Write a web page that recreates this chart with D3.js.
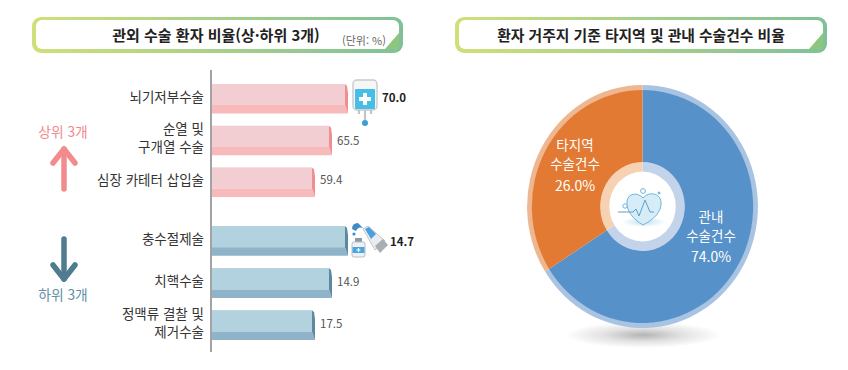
<!DOCTYPE html>
<html lang="ko">
<head>
<meta charset="utf-8">
<script src="https://cdn.jsdelivr.net/npm/d3@7"></script>
<style>
  html, body { margin: 0; padding: 0; background: #fff; }
  text { font-family: "Noto Sans CJK KR", "Noto Sans", sans-serif; }
</style>
</head>
<body>
<div id="chart"></div>
<script>
/* DATA */
const topNames = [["뇌기저부수술"], ["순열 및", "구개열 수술"], ["심장 카테터 삽입술"]];
const topValues = [70.0, 65.5, 59.4];
const lowNames = [["충수절제술"], ["치핵수술"], ["정맥류 결찰 및", "제거수술"]];
const lowValues = [14.7, 14.9, 17.5];
const barLabels = ["70.0", "65.5", "59.4", "14.7", "14.9", "17.5"];
const pieNames = [["관내", "수술건수"], ["타지역", "수술건수"]];
const pieLabels = ["74.0%", "26.0%"];
// the slices in the picture are not drawn to the printed percentages, this is what they measure
const pieDrawn = [66, 34];

const width = 848, height = 370;

const svg = d3.select("#chart").append("svg")
  .attr("width", width)
  .attr("height", height)
  .style("display", "block");

const defs = svg.append("defs");

const frameGrad = defs.append("linearGradient").attr("id", "frameGrad");
frameGrad.append("stop").attr("offset", "0%").attr("stop-color", "#cfe07a");
frameGrad.append("stop").attr("offset", "100%").attr("stop-color", "#7fc197");

const shadowGrad = defs.append("radialGradient").attr("id", "shadowGrad");
shadowGrad.append("stop").attr("offset", "0%").attr("stop-color", "#b4b4b4");
shadowGrad.append("stop").attr("offset", "50%").attr("stop-color", "#e2e2e2");
shadowGrad.append("stop").attr("offset", "100%").attr("stop-color", "#ffffff");

const glowGrad = defs.append("radialGradient").attr("id", "glowGrad");
glowGrad.append("stop").attr("offset", "0%").attr("stop-color", "#bfe0f2");
glowGrad.append("stop").attr("offset", "100%").attr("stop-color", "#ffffff");

/* TITLE BOXES */
function titleBox(x, w, label, cx, size) {
  const g = svg.append("g");
  g.append("rect")
    .attr("x", x).attr("y", 17)
    .attr("width", w).attr("height", 36)
    .attr("rx", 9)
    .attr("fill", "url(#frameGrad)");
  g.append("rect")
    .attr("x", x + 4).attr("y", 20)
    .attr("width", w - 8).attr("height", 29)
    .attr("rx", 6)
    .attr("fill", "#fff");
  // green corner fold
  g.append("path")
    .attr("d", `M${x + w - 18},49 L${x + w - 4},33 L${x + w - 4},45 Q${x + w - 4},49 ${x + w - 9},49 Z`)
    .attr("fill", "#8cc67f");
  g.append("text")
    .attr("x", cx).attr("y", 36)
    .attr("dy", "0.35em")
    .attr("text-anchor", "middle")
    .attr("font-size", size)
    .attr("font-weight", 700)
    .attr("fill", "#222")
    .text(label);
}
titleBox(32, 371, "관외 수술 환자 비율(상·하위 3개)", 216, 15);
titleBox(455, 372, "환자 거주지 기준 타지역 및 관내 수술건수 비율", 641, 14.8);

svg.append("text")
  .attr("x", 364).attr("y", 41)
  .attr("dy", "0.35em")
  .attr("text-anchor", "middle")
  .attr("font-size", 11)
  .attr("fill", "#666")
  .text("(단위: %)");

/* BAR SCALES */
const axisX = 212;
// bar lengths follow the rank, the lower group runs the other way round
const xTop = d3.scaleLinear().domain([59.4, 65.5, 70]).range([axisX + 103, axisX + 120, axisX + 136]);
const xLow = d3.scaleLinear().domain([17.5, 14.9, 14.7]).range([axisX + 103, axisX + 120, axisX + 136]);

const yTop = d3.scaleBand().domain(d3.range(3)).range([84, 197]).paddingInner(0.29);
const yLow = d3.scaleBand().domain(d3.range(3)).range([226, 340]).paddingInner(0.29);

const underH = 8.5;

function drawBars(values, names, xScale, yScale, offset, c) {
  const g = svg.append("g");
  const rows = values.map((v, i) => ({ v, i, names: names[i], label: barLabels[i + offset] }));
  const bh = yScale.bandwidth();

  const row = g.selectAll("g.row").data(rows).join("g").attr("class", "row");

  row.append("rect")
    .attr("x", axisX)
    .attr("y", d => yScale(d.i))
    .attr("width", d => xScale(d.v) - axisX - 3)
    .attr("height", bh - underH)
    .attr("fill", c.face);

  row.append("path")
    .attr("d", d => {
      const x1 = xScale(d.v), y0 = yScale(d.i);
      return `M${axisX},${y0 + bh - underH} L${x1 - 3},${y0 + bh - underH} L${x1},${y0 + bh} L${axisX},${y0 + bh} Z`;
    })
    .attr("fill", c.under);

  row.append("path")
    .attr("d", d => {
      const x1 = xScale(d.v), y0 = yScale(d.i);
      return `M${x1 - 3},${y0} L${x1 - 1},${y0 + 2} L${x1},${y0 + 9} L${x1},${y0 + bh} L${x1 - 3},${y0 + bh - underH} Z`;
    })
    .attr("fill", c.edge);

  row.append("text")
    .attr("x", d => xScale(d.v) + (d.i === 0 ? c.bestGap : 5))
    .attr("y", d => yScale(d.i) + c.labelY[d.i])
    .attr("dy", "0.35em")
    .attr("font-size", 11.5)
    .attr("font-weight", d => d.i === 0 ? 700 : 400)
    .attr("fill", d => d.i === 0 ? "#222" : "#555")
    .text(d => d.label);

  const names2 = row.append("text")
    .attr("text-anchor", "end")
    .attr("font-size", 13.5)
    .attr("fill", "#333");
  names2.selectAll("tspan")
    .data(d => d.names.map((t, k) => ({ t, k, d })))
    .join("tspan")
    .attr("x", 204)
    .attr("y", d => yScale(d.d.i) + bh / 2 - 2 + (d.k - (d.d.names.length - 1) / 2) * 18.5)
    .attr("dy", "0.35em")
    .text(d => d.t);
}

drawBars(topValues, topNames, xTop, yTop, 0,
  { face: "#f2cdd2", under: "#f8b9bb", edge: "#ee8f93", bestGap: 34, labelY: [14, 15, 13] });
drawBars(lowValues, lowNames, xLow, yLow, 3,
  { face: "#b3d2df", under: "#8fb3c9", edge: "#5b8a9f", bestGap: 42, labelY: [16, 14, 14] });

// axis line
svg.append("line")
  .attr("x1", 211).attr("x2", 211)
  .attr("y1", 70).attr("y2", 352)
  .attr("stroke", "#8c8c8c")
  .attr("stroke-width", 1.6);

/* UP / DOWN ARROWS */
function arrow(x, tipY, endY, dir, color, label, labelY) {
  const g = svg.append("g")
    .attr("fill", "none")
    .attr("stroke", color)
    .attr("stroke-width", 5.5)
    .attr("stroke-linecap", "round")
    .attr("stroke-linejoin", "round");
  g.append("path").attr("d", `M${x},${tipY} L${x},${endY}`);
  g.append("path").attr("d", `M${x - 11},${tipY + dir * 14} L${x},${tipY} L${x + 11},${tipY + dir * 14}`);
  svg.append("text")
    .attr("x", x - 1).attr("y", labelY)
    .attr("dy", "0.35em")
    .attr("text-anchor", "middle")
    .attr("font-size", 13.8)
    .attr("fill", label.color)
    .text(label.text);
}
arrow(64, 149, 189, 1, "#f28b8e", { text: "상위 3개", color: "#f0898d" }, 132);
arrow(64, 279, 239, -1, "#4f7c91", { text: "하위 3개", color: "#5f90a6" }, 295);

/* ICONS */
// iv bag beside the longest top bar
const bag = svg.append("g").attr("transform", `translate(${xTop(70)},0)`);
bag.append("rect").attr("x", 5).attr("y", 80).attr("width", 24).attr("height", 30).attr("rx", 4)
  .attr("fill", "#f4f6f7").attr("stroke", "#c9c9c9").attr("stroke-width", 1.4);
bag.append("rect").attr("x", 7).attr("y", 89).attr("width", 20).attr("height", 20).attr("rx", 1).attr("fill", "#45bfe8");
bag.append("path").attr("d", "M17,93 V105 M11,99 H23").attr("stroke", "#fff").attr("stroke-width", 4);
bag.append("path").attr("d", "M11,110 V114 M17,110 V120 M23,110 V114").attr("stroke", "#c4c4c4").attr("stroke-width", 2.2);
bag.append("circle").attr("cx", 17).attr("cy", 123).attr("r", 3).attr("fill", "#3b9fd6");

// bottle and ointment tube beside the longest lower bar
const tube = svg.append("g").attr("transform", `translate(${xLow(14.7)},0)`);
tube.append("rect").attr("x", 7).attr("y", 238).attr("width", 7).attr("height", 4).attr("fill", "#8d99a3");
tube.append("rect").attr("x", 4).attr("y", 242).attr("width", 13).attr("height", 15).attr("rx", 2)
  .attr("fill", "#eef2f5").attr("stroke", "#b7bec4");
tube.append("rect").attr("x", 4.5).attr("y", 247).attr("width", 12).attr("height", 6).attr("fill", "#4aa6de");
tube.append("path").attr("d", "M10.5,248 V252 M8.5,250 H12.5").attr("stroke", "#fff").attr("stroke-width", 1.2);
tube.append("path").attr("d", "M15,229 L20,226 L37,241 L27,250 Z").attr("fill", "#e9edf0").attr("stroke", "#c2c7ca");
tube.append("path").attr("d", "M17,229 L21,227 L28,234 L23,239 Z").attr("fill", "#4a9fdc");
tube.append("path").attr("d", "M27,246 L35,239 L40,245 L32,253 Z").attr("fill", "#a9aeb2");
tube.append("path").attr("d", "M4,229 Q4,223 10,223 L15,228 Q10,226 8,231 Z").attr("fill", "#3e8dc9");
tube.append("circle").attr("cx", 6).attr("cy", 234).attr("r", 1.6).attr("fill", "#3e8dc9");

/* PIE */
const pie = d3.pie().sort(null).value(d => d)(pieDrawn);
const pieG = svg.append("g").attr("transform", "translate(642.5,206.5) scale(0.95,1)");

svg.insert("ellipse", "g")
  .attr("cx", 643).attr("cy", 335)
  .attr("rx", 78).attr("ry", 13)
  .attr("fill", "url(#shadowGrad)");

const pieColors = ["#5691c9", "#e27a34"];
const rimColors = ["#a9c3e2", "#eeb78f"];
const ringColors = ["#c3d4ea", "#f6d1b2"];

const arcRim = d3.arc().innerRadius(116).outerRadius(121.5);
const arcMain = d3.arc().innerRadius(44).outerRadius(116.5);
const arcRing = d3.arc().innerRadius(34).outerRadius(44.5);

pieG.selectAll("path.rim").data(pie).join("path").attr("class", "rim")
  .attr("d", arcRim).attr("fill", (d, i) => rimColors[i]);
pieG.selectAll("path.main").data(pie).join("path").attr("class", "main")
  .attr("d", arcMain).attr("fill", (d, i) => pieColors[i]);
pieG.selectAll("path.ring").data(pie).join("path").attr("class", "ring")
  .attr("d", arcRing).attr("fill", (d, i) => ringColors[i]);
pieG.append("circle").attr("r", 35).attr("fill", "#fff");

// heart in the hub
const heart = svg.append("g").attr("transform", "translate(643,207)")
  .attr("fill", "none").attr("stroke", "#6fb4dc").attr("stroke-width", 1);
heart.append("ellipse").attr("cx", 1).attr("cy", 15).attr("rx", 22).attr("ry", 5)
  .attr("fill", "url(#glowGrad)").attr("stroke", "none");
heart.append("path")
  .attr("d", "M0,18 C-10,12 -17,4 -16,-6 C-15,-14 -5,-15 0,-9 C6,-16 17,-14 18,-5 C19,5 10,13 0,18 Z")
  .attr("fill", "#d6edf8");
heart.append("path").attr("d", "M-25,5 H-10 L-7,2 L-4,9 L2,-7 L7,5 H11").attr("stroke", "#5f9fca");
heart.append("circle").attr("cx", -18).attr("cy", -1).attr("r", 2.2).attr("fill", "#fff");
heart.append("circle").attr("cx", 0).attr("cy", -16).attr("r", 2.4).attr("fill", "#fff");
heart.append("circle").attr("cx", 16).attr("cy", -14).attr("r", 1).attr("fill", "#6fb4dc");

// slice labels, each one a single text with a line per tspan
const sliceSpots = [{ x: 711, ys: [217.5, 236, 257] }, { x: 575, ys: [145.5, 164, 186] }];
const sliceText = svg.selectAll("text.sliceLabel").data(pieNames).join("text").attr("class", "sliceLabel")
  .attr("text-anchor", "middle")
  .attr("fill", "#fff");
sliceText.selectAll("tspan")
  .data((d, i) => d.concat(pieLabels[i]).map((t, k) => ({ t, k, i })))
  .join("tspan")
  .attr("x", d => sliceSpots[d.i].x)
  .attr("y", d => sliceSpots[d.i].ys[d.k])
  .attr("dy", "0.35em")
  .attr("font-size", d => d.k === 2 ? 14 : 13.5)
  .text(d => d.t);
</script>
</body>
</html>
